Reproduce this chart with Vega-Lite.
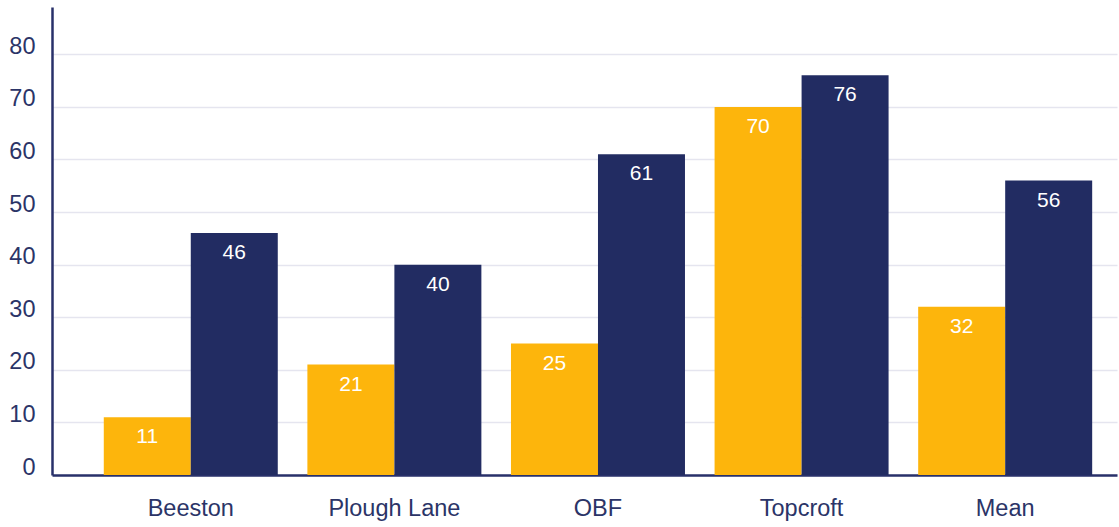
{
  "$schema": "https://vega.github.io/schema/vega-lite/v6.json",
  "autosize": {"type": "none"},
  "padding": {"left": 52, "top": 7, "right": 2, "bottom": 52},
  "width": 1065,
  "height": 468,
  "background": "white",
  "config": {
    "view": {"stroke": null},
    "font": "Liberation Sans"
  },
  "data": {
    "values": [
      {"site": "Beeston", "series": "Series 1", "value": 11},
      {"site": "Beeston", "series": "Series 2", "value": 46},
      {"site": "Plough Lane", "series": "Series 1", "value": 21},
      {"site": "Plough Lane", "series": "Series 2", "value": 40},
      {"site": "OBF", "series": "Series 1", "value": 25},
      {"site": "OBF", "series": "Series 2", "value": 61},
      {"site": "Topcroft", "series": "Series 1", "value": 70},
      {"site": "Topcroft", "series": "Series 2", "value": 76},
      {"site": "Mean", "series": "Series 1", "value": 32},
      {"site": "Mean", "series": "Series 2", "value": 56}
    ]
  },
  "encoding": {
    "x": {
      "field": "site",
      "type": "nominal",
      "sort": null,
      "scale": {"paddingInner": 0.1454, "paddingOuter": 0.1881, "align": 0.676, "round": false},
      "axis": {
        "title": null,
        "labelAngle": 0,
        "ticks": false,
        "labelPadding": 40,
        "labelBaseline": "alphabetic",
        "labelFontSize": 23.5,
        "labelColor": "#2b3467",
        "domainColor": "#28306a",
        "domainWidth": 2.5,
        "grid": false
      }
    },
    "xOffset": {
      "field": "series",
      "type": "nominal",
      "scale": {"paddingInner": 0, "paddingOuter": 0}
    },
    "y": {
      "field": "value",
      "type": "quantitative",
      "scale": {"domain": [0, 89], "nice": false},
      "axis": {
        "title": null,
        "values": [0, 10, 20, 30, 40, 50, 60, 70, 80],
        "ticks": false,
        "labelPadding": 17,
        "labelBaseline": "alphabetic",
        "labelOffset": -1,
        "labelFontSize": 23.5,
        "labelColor": "#2b3467",
        "domainColor": "#28306a",
        "domainWidth": 2.5,
        "gridColor": "#e5e5ef",
        "gridWidth": 1.5
      }
    }
  },
  "layer": [
    {
      "mark": {"type": "bar"},
      "encoding": {
        "color": {
          "field": "series",
          "type": "nominal",
          "scale": {"domain": ["Series 1", "Series 2"], "range": ["#fdb50c", "#222c62"]},
          "legend": null
        }
      }
    },
    {
      "mark": {"type": "text", "baseline": "middle", "align": "center", "dy": 20, "fontSize": 21, "color": "white"},
      "encoding": {
        "text": {"field": "value", "type": "quantitative"}
      }
    }
  ]
}
